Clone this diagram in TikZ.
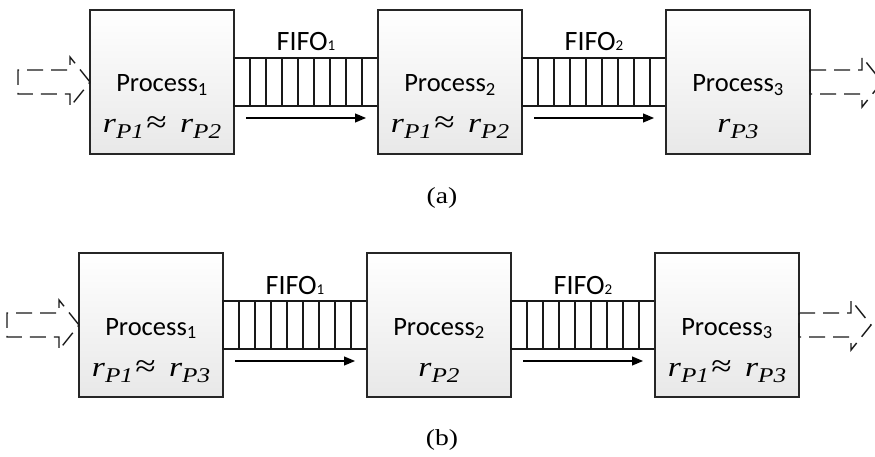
\documentclass[tikz,border=0pt]{standalone}
\usepackage{fontspec}
\setmainfont{Liberation Serif}
\newfontfamily\calib{Carlito}
\usetikzlibrary{arrows.meta,positioning}

\newcommand{\rsub}[1]{\textit{r}\raisebox{-6pt}{\fontsize{21}{21}\selectfont\itshape P#1}}
\newcommand{\rpair}[2]{\scalebox{1.2}[1]{\rsub{#1}\kern2pt{\fontsize{31}{31}\selectfont≈}\hspace{11pt}\rsub{#2}}}
\newcommand{\fsub}[1]{{\fontsize{15}{15}\selectfont #1}}

\begin{document}
\begin{tikzpicture}[x=1pt, y=-1pt,
  proc/.style={draw=black!85, line width=1.6pt, top color=white, bottom color=black!9,
    minimum width=144pt, minimum height=144pt, inner sep=0pt, outer sep=0pt},
  fifo/.style={draw=black!90, line width=1.5pt, fill=white,
    minimum width=144pt, minimum height=48pt, inner sep=0pt, outer sep=0pt},
  tick/.style={line width=1.4pt, black!90},
  plab/.style={font=\calib\fontsize{26.5}{30}\selectfont, anchor=base, inner sep=0pt},
  flab/.style={font=\calib\fontsize{28}{30}\selectfont, anchor=base, inner sep=0pt},
  rlab/.style={font=\fontsize{28}{30}\selectfont, anchor=base, inner sep=0pt},
  flow/.style={-{Triangle[length=11pt,width=9pt]}, line width=1.2pt},
  blk/.style={dash pattern=on 16pt off 8pt, line width=1.4pt, black!90},
  sublab/.style={font=\fontsize{23}{26}\selectfont}]
\useasboundingbox (0,0) rectangle (875,457);
% ---- (a) ----
\node[proc] (a1) at (162,82) {};
\node[fifo, right=0pt of a1] (fa1) {};
\node[proc, right=0pt of fa1] (a2) {};
\node[fifo, right=0pt of a2] (fa2) {};
\node[proc, right=0pt of fa2] (a3) {};
\node[plab] (la1) at ([yshift=-10pt]a1.center) {Process\textsubscript{1}};
\node[plab] (la2) at ([yshift=-10pt]a2.center) {Process\textsubscript{2}};
\node[plab] (la3) at ([yshift=-10pt]a3.center) {Process\textsubscript{3}};
\node[rlab] (ra1) at ([yshift=-51pt]a1.center) {\rpair{1}{2}};
\node[rlab] (ra2) at ([yshift=-51pt]a2.center) {\rpair{1}{2}};
\node[rlab] (ra3) at ([yshift=-51pt]a3.center) {\scalebox{1.2}[1]{\rsub{3}}};
\node[flab] (na1) at ([yshift=31pt]fa1.center) {FIFO\fsub{1}};
\node[flab] (na2) at ([yshift=31pt]fa2.center) {FIFO\fsub{2}};
\draw[flow] ([xshift=12pt,yshift=-36pt]fa1.west) -- ([xshift=-12pt,yshift=-36pt]fa1.east);
\draw[flow] ([xshift=12pt,yshift=-36pt]fa2.west) -- ([xshift=-12pt,yshift=-36pt]fa2.east);
% dashed in/out arrows
\draw[blk] (a1.west) -- ++(-20,-25) -- ++(0,13) -- ++(-52,0) -- ++(0,24)
  -- ++(52,0) -- ++(0,13) -- cycle;
\draw[blk] ([yshift=12pt]a3.east) -- ++(52,0) -- ++(0,-13) -- ++(20,25)
  -- ++(-20,25) -- ++(0,-13) -- ++(-52,0) -- cycle;
\node[sublab] (capa) at (442,198) {\scalebox{1.2}[1]{(a)}};
% ---- (b) ----
\node[proc] (b1) at (151,325) {};
\node[fifo, right=0pt of b1] (fb1) {};
\node[proc, right=0pt of fb1] (b2) {};
\node[fifo, right=0pt of b2] (fb2) {};
\node[proc, right=0pt of fb2] (b3) {};
\node[plab] (lb1) at ([yshift=-10pt]b1.center) {Process\textsubscript{1}};
\node[plab] (lb2) at ([yshift=-10pt]b2.center) {Process\textsubscript{2}};
\node[plab] (lb3) at ([yshift=-10pt]b3.center) {Process\textsubscript{3}};
\node[rlab] (rb1) at ([yshift=-51pt]b1.center) {\rpair{1}{3}};
\node[rlab] (rb2) at ([yshift=-51pt]b2.center) {\scalebox{1.2}[1]{\rsub{2}}};
\node[rlab] (rb3) at ([yshift=-51pt]b3.center) {\rpair{1}{3}};
\node[flab] (nb1) at ([yshift=31pt]fb1.center) {FIFO\fsub{1}};
\node[flab] (nb2) at ([yshift=31pt]fb2.center) {FIFO\fsub{2}};
\draw[flow] ([xshift=12pt,yshift=-36pt]fb1.west) -- ([xshift=-12pt,yshift=-36pt]fb1.east);
\draw[flow] ([xshift=12pt,yshift=-36pt]fb2.west) -- ([xshift=-12pt,yshift=-36pt]fb2.east);
\draw[blk] (b1.west) -- ++(-20,-25) -- ++(0,13) -- ++(-52,0) -- ++(0,24)
  -- ++(52,0) -- ++(0,13) -- cycle;
\draw[blk] ([yshift=12pt]b3.east) -- ++(52,0) -- ++(0,-13) -- ++(20,25)
  -- ++(-20,25) -- ++(0,-13) -- ++(-52,0) -- cycle;
\node[sublab] (capb) at (442,440) {\scalebox{1.2}[1]{(b)}};
% FIFO cells
\foreach \f in {fa1,fa2,fb1,fb2}
  \foreach \i in {1,...,8}
    \draw[tick] ([xshift=\i*16pt]\f.north west) -- ([xshift=\i*16pt]\f.south west);
\end{tikzpicture}
\end{document}
